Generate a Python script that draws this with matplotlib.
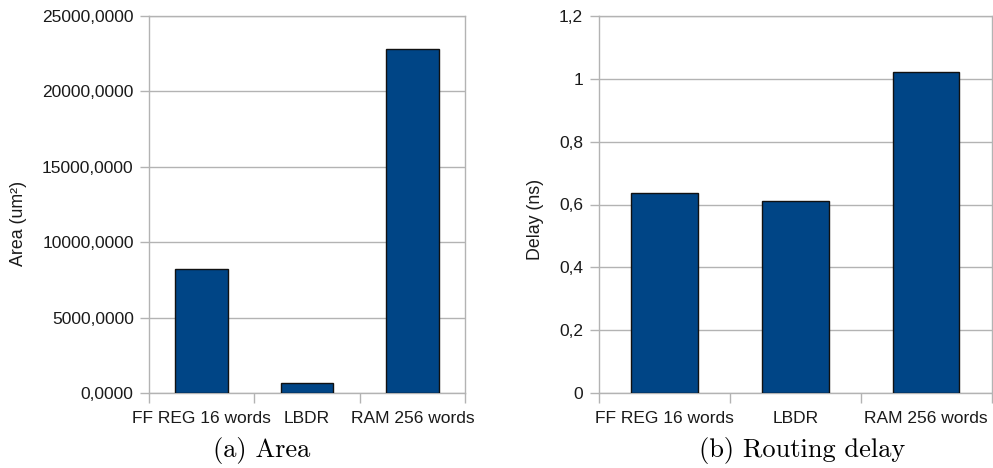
import matplotlib
matplotlib.use("Agg")
import matplotlib.pyplot as plt
import numpy as np

categories = ["FF REG 16 words", "LBDR", "RAM 256 words"]
area_values = [8220, 670, 22800]
delay_values = [0.638, 0.610, 1.022]

area_ticks = [0, 5000, 10000, 15000, 20000, 25000]
area_ticklabels = ["0,0000", "5000,0000", "10000,0000", "15000,0000", "20000,0000", "25000,0000"]
delay_ticks = [0, 0.2, 0.4, 0.6, 0.8, 1.0, 1.2]
delay_ticklabels = ["0", "0,2", "0,4", "0,6", "0,8", "1", "1,2"]

plt.rcParams['font.family'] = ['Liberation Sans', 'DejaVu Sans']

W, H = 993, 468
fig = plt.figure(figsize=(W / 100, H / 100), dpi=100)

GRID = "#b3b3b3"
BAR = "#004586"
TXT = "#1a1a1a"


def style(ax, vals, ticks, ticklabels, ylabel, bw, ypad):
    x = np.arange(len(categories))
    ax.bar(x, vals, width=bw, color=BAR, edgecolor="#111111", linewidth=1.0, zorder=3)
    ax.set_xlim(-0.5, len(categories) - 0.5)
    ax.set_ylim(ticks[0], ticks[-1])
    ax.set_yticks(ticks)
    ax.set_yticklabels(ticklabels, fontsize=12.5, color=TXT)
    ax.set_xticks(x)
    ax.set_xticklabels(categories, fontsize=12.5, color=TXT)
    ax.set_xticks(np.arange(-0.5, len(categories)), minor=True)
    ax.tick_params(axis="x", which="major", length=0, pad=13)
    ax.tick_params(axis="x", which="minor", length=7, color=GRID, width=1)
    ax.tick_params(axis="y", which="major", length=6.5, color=GRID, width=1, pad=ypad)
    ax.yaxis.grid(True, color=GRID, linewidth=1, zorder=0)
    ax.set_axisbelow(True)
    for s in ax.spines.values():
        s.set_color(GRID)
        s.set_linewidth(1)
    ax.set_ylabel(ylabel, fontsize=12.8, color=TXT)


ax1 = fig.add_axes([149 / W, 1 - 393 / H, (465 - 149) / W, (393 - 16) / H])
style(ax1, area_values, area_ticks, area_ticklabels, "Area (um²)", 0.5, 4.5)
ax1.yaxis.set_label_coords(-0.385, 0.45)

ax2 = fig.add_axes([599 / W, 1 - 393 / H, (991.5 - 599) / W, (393 - 16) / H])
style(ax2, delay_values, delay_ticks, delay_ticklabels, "Delay (ns)", 0.51, 5)
ax2.yaxis.set_label_coords(-0.14, 0.46)

fig.text(262 / W, 1 - 450 / H, "(a) Area", fontsize=19, family="cmr10",
         ha="center", va="center", color="black")
fig.text(801.7 / W, 1 - 450 / H, "(b) Routing delay", fontsize=19, family="cmr10",
         ha="center", va="center", color="black")

fig.savefig("out.png", dpi=100)
